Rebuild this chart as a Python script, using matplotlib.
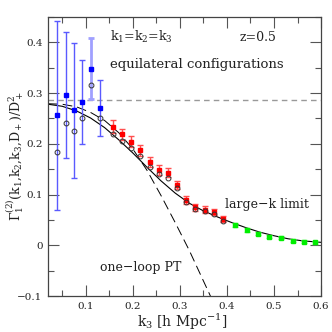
import numpy as np
import matplotlib
matplotlib.use("Agg")
import matplotlib.pyplot as plt
from matplotlib.ticker import MultipleLocator

plt.rcParams['font.family'] = 'serif'
plt.rcParams['font.serif'] = ['DejaVu Serif']
plt.rcParams['mathtext.fontset'] = 'dejavuserif'
plt.rcParams['axes.unicode_minus'] = True

# blue: large scales (filled squares, open circles)
k_blue = [0.039, 0.0575, 0.0745, 0.0914, 0.111, 0.131]
sq_blue = [0.256, 0.296, 0.266, 0.283, 0.348, 0.271]
err_blue = [0.186, 0.124, 0.133, 0.083, 0.060, 0.055]
circ_blue = [0.183, 0.242, 0.226, 0.250, 0.316, 0.250]

# red: intermediate scales
k_red = [0.157, 0.177, 0.196, 0.216, 0.236, 0.255, 0.274, 0.293,
         0.314, 0.333, 0.353, 0.372, 0.392]
sq_red = [0.234, 0.219, 0.204, 0.187, 0.164, 0.148, 0.143, 0.119,
          0.089, 0.075, 0.070, 0.066, 0.052]
err_red = [0.012, 0.011, 0.011, 0.010, 0.010, 0.010, 0.009, 0.008,
           0.008, 0.007, 0.007, 0.006, 0.006]
circ_red = [0.219, 0.205, 0.192, 0.177, 0.155, 0.140, 0.132, 0.113,
            0.086, 0.071, 0.067, 0.062, 0.049]

# green: small scales
k_green = [0.418, 0.442, 0.466, 0.490, 0.515, 0.540, 0.564, 0.588]
sq_green = [0.041, 0.030, 0.023, 0.017, 0.015, 0.009, 0.007, 0.0065]
err_green = [0.004, 0.004, 0.003, 0.003, 0.003, 0.003, 0.003, 0.003]

# curves
k_large = [0.02, 0.05, 0.08, 0.11, 0.14, 0.17, 0.20, 0.23, 0.26, 0.29,
           0.32, 0.35, 0.38, 0.41, 0.44, 0.47, 0.50, 0.53, 0.56, 0.60]
g_large = [0.278, 0.274, 0.265, 0.251, 0.232, 0.208, 0.182, 0.154, 0.127, 0.103,
           0.083, 0.068, 0.056, 0.045, 0.035, 0.026, 0.019, 0.013, 0.009, 0.006]
k_1loop = [0.02, 0.05, 0.08, 0.11, 0.14, 0.17, 0.20, 0.23, 0.26, 0.29,
           0.32, 0.35, 0.365]
g_1loop = [0.279, 0.278, 0.273, 0.262, 0.246, 0.222, 0.190, 0.148, 0.098, 0.045,
           -0.010, -0.070, -0.100]
tree = 0.2857

fig = plt.figure(figsize=(3.32, 3.32), dpi=100)
ax = fig.add_axes([0.145, 0.108, 0.822, 0.841])

ax.axhline(tree, color='#999999', ls=(0, (4, 3)), lw=1.0)
ax.plot(k_large, g_large, color='black', lw=0.8)
ax.plot(k_1loop, g_1loop, color='black', lw=0.7, ls=(0, (10, 5)))

# blue points (5th one has a lighter bar)
for i in range(len(k_blue)):
    c = '#a0a0ff' if i == 4 else '#5a5aff'
    w = 2.0 if i == 4 else 1.0
    ax.errorbar(k_blue[i], sq_blue[i], yerr=err_blue[i], fmt='none', ecolor=c,
                elinewidth=w, capsize=2.5, capthick=w)
ax.plot(k_blue, sq_blue, 's', color='#0000ff', ms=3, ls='none')
ax.plot(k_blue, circ_blue, 'o', mfc='none', mec='#333333', mew=0.7, ms=3.5, ls='none')

ax.errorbar(k_red, sq_red, yerr=err_red, fmt='none', ecolor='#ff5050',
            elinewidth=1.0, capsize=2.5)
ax.plot(k_red, sq_red, 's', color='#ff0000', ms=3, ls='none')
ax.plot(k_red, circ_red, 'o', mfc='none', mec='#333333', mew=0.7, ms=3.5, ls='none')

ax.errorbar(k_green, sq_green, yerr=err_green, fmt='none', ecolor='#80ff80',
            elinewidth=1.0, capsize=2.5)
ax.plot(k_green, sq_green, 's', color='#00ee00', ms=3.2, ls='none')

ax.set_xlim(0.02, 0.6)
ax.set_ylim(-0.1, 0.45)
ax.xaxis.set_minor_locator(MultipleLocator(0.05))
ax.yaxis.set_minor_locator(MultipleLocator(0.05))
ax.set_xticks([0.1, 0.2, 0.3, 0.4, 0.5, 0.6])
ax.set_xticklabels(['0.1', '0.2', '0.3', '0.4', '0.5', '0.6'])
ax.set_yticks([-0.1, 0, 0.1, 0.2, 0.3, 0.4])
ax.set_yticklabels(['\u22120.1', '0', '0.1', '0.2', '0.3', '0.4'])
ax.tick_params(which='both', direction='in', top=True, right=True,
               color='#555555', labelsize=7.5, pad=4, labelcolor='#222222')
ax.tick_params(which='major', length=8, width=0.8)
ax.tick_params(which='minor', length=4, width=0.8)
for s in ax.spines.values():
    s.set_color('#444444')
    s.set_linewidth(0.9)

ax.set_xlabel(r'k$_3$ [h Mpc$^{-1}$]', fontsize=10, color='#222222')
ax.xaxis.set_label_coords(0.49, -0.055)
ax.set_ylabel(r'$\Gamma_1^{(2)}$(k$_1$,k$_2$,k$_3$,D$_+$)/D$_+^2$', fontsize=9,
              color='#222222')
ax.yaxis.set_label_coords(-0.082, 0.5)

ax.text(0.151, 0.41, r'k$_1$=k$_2$=k$_3$', fontsize=9, va='center', color='#222222')
ax.text(0.427, 0.41, 'z=0.5', fontsize=9, va='center', color='#222222')
ax.text(0.151, 0.357, 'equilateral configurations', fontsize=9.5, va='center',
        color='#222222')
ax.text(0.395, 0.081, 'large\u2212k limit', fontsize=9, va='center', color='#222222')
ax.text(0.130, -0.044, 'one\u2212loop PT', fontsize=9, va='center', color='#222222')

fig.savefig('out.png', dpi=100)
